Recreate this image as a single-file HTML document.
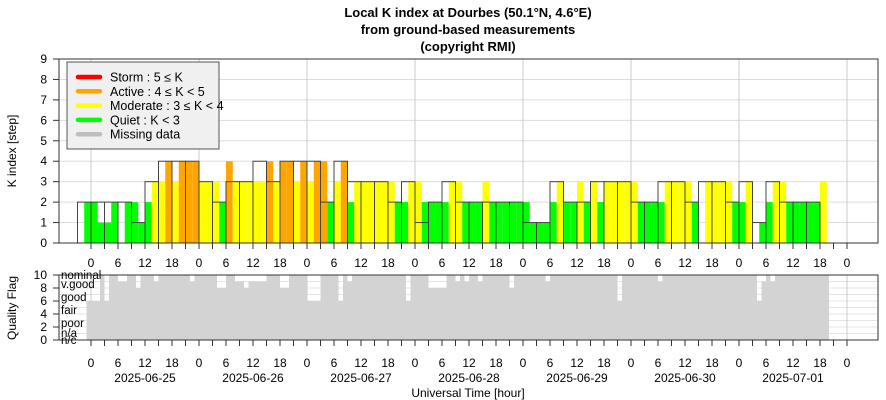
<!DOCTYPE html>
<html><head><meta charset="utf-8"><style>
body{margin:0;background:#fff}
svg{display:block;font-family:"Liberation Sans",sans-serif}
</style></head><body>
<svg id="c" width="886" height="400" viewBox="0 0 886 400">
<g font-weight="bold" font-size="13" text-anchor="middle" fill="#000">
<text x="468" y="17">Local K index at Dourbes (50.1°N, 4.6°E)</text>
<text x="468" y="34">from ground-based measurements</text>
<text x="468" y="51">(copyright RMI)</text>
</g>
<text transform="translate(16,151) rotate(-90)" font-size="12" text-anchor="middle">K index [step]</text>
<text transform="translate(16,308) rotate(-90)" font-size="12" text-anchor="middle">Quality Flag</text>
<text x="468" y="397" font-size="12" text-anchor="middle">Universal Time [hour]</text>
<g id="grid"></g><g id="bars"></g><g id="outl"></g><g id="qbars"></g><g id="axes"></g>
<g id="legend">
<rect x="67" y="62" width="152" height="87" fill="#f0f0f0" stroke="#555"/>
</g>
</svg>
<script>
const outlineK=[2,2,2,2,1,3,4,4,4,3,2,3,3,4,3,4,4,4,2,4,3,
3,3,2,3,1,2,3,2,2,2,2,2,1,1,3,2,2,3,3,
3,2,2,3,3,2,3,3,2,3,1,3,2,2,2];
const halfK=[null,2, 2,1, 1,2, null,2, 2,1, 2,3, 3,4, 3,4, 4,4, 3,3, 3,2, 4,3, 3,3, 3,3, 4,3, 4,4, 3,4, 3,4, 4,2, 3,4, 2,3,
3,3, 3,3, 3,2, 2,3, 3,2, 2,2, 2,3, 3,2, 2,2, 3,2, 2,2, 2,2, 2,1, 1,1, 2,3, 2,2, 3,2, 3,2, 3,3,
3,3, 3,2, 2,2, 2,3, 3,3, 3,2, null,3, 3,3, 3,2, 2,3, null,1, 2,3, 3,2, 2,2, 2,2, 3,null];
const quality=[6,
6,6,10,6,10,10,9,9,10,10,8,10,10,10,9,10,10,10,10,10,10,10,9,10,
10,10,10,10,8,8,10,10,9,9,8,9,9,9,9,10,10,10,8,8,10,10,10,10,
6,6,6,10,10,10,10,6,10,9,10,10,10,10,10,10,10,10,10,10,10,10,6,10,
10,10,10,8,8,8,8,10,10,9,10,9,10,10,9,10,10,10,10,10,10,8,10,10,
10,10,10,10,10,9,10,10,10,10,10,10,10,10,10,10,10,10,10,10,10,6,10,10,
10,10,10,10,10,10,9,10,10,10,10,10,10,10,10,10,10,10,10,10,10,10,10,10,
10,10,10,10,6,9,10,9,10,10,10,10,10,10,10,10,10,10,10,10];
const hourTicks=["0","6","12","18"];
const dates=["2025-06-25","2025-06-26","2025-06-27","2025-06-28","2025-06-29","2025-06-30","2025-07-01"];
const qLabels=["nominal","v.good","good","fair","poor","n/a","n/c"];
const qLabelVals=[10,8.6,6.6,4.6,2.6,1.1,0];
const legendNames=["Storm : 5 ≤ K","Active : 4 ≤ K < 5","Moderate : 3 ≤ K < 4","Quiet : K < 3","Missing data"];
const legendColors=["#ff0000","#ffa500","#ffff00","#00ff00","#bebebe"];

const NS="http://www.w3.org/2000/svg";
const L=59,R=878,T=59,B=243,QT=275,QB=340;
const x=h=>91+h*4.5;
const y=k=>B-k*(B-T)/9;
const qy=v=>QB-v*(QB-QT)/10;
function mk(p,tag,at){const e=document.createElementNS(NS,tag);for(const k in at)e.setAttribute(k,at[k]);document.getElementById(p).appendChild(e);return e;}
function col(k){return k>=5?"#ff0000":k>=4?"#ffa500":k>=3?"#ffff00":"#00ff00";}

// grid
for(let k=1;k<9;k++){const g=mk("grid","line",{x1:L,x2:R,y1:y(k),y2:y(k),stroke:"#ddd"});

}
for(let v=1;v<10;v++){const g=mk("grid","line",{x1:L,x2:R,y1:qy(v),y2:qy(v),stroke:"#e4e4e4"});

}
for(let d=0;d<=7;d++){[[T,B],[QT,QB]].forEach(r=>{const g=mk("grid","line",{x1:x(d*24),x2:x(d*24),y1:r[0],y2:r[1],stroke:"#ccc"});

});}

// colored half-block bars
halfK.forEach((k,i)=>{if(k==null)return;const h0=-3+i*1.5;
const r=mk("bars","rect",{x:x(h0),y:y(k),width:4.5*1.5,height:B-y(k),fill:col(k)});

});
// outline 3-hour blocks
outlineK.forEach((k,i)=>{const h0=-3+i*3;
const r=mk("outl","rect",{x:x(h0),y:y(k),width:13.5,height:B-y(k),fill:"none",stroke:"#444","stroke-width":1});

});
// quality bars
quality.forEach((v,i)=>{const h0=-1+i;
const r=mk("qbars","rect",{x:x(h0),y:qy(v),width:4.5,height:QB-qy(v),fill:"#d3d3d3"});

});
// axes frames
[[T,B],[QT,QB]].forEach(r=>{const f=mk("axes","rect",{x:L,y:r[0],width:R-L,height:r[1]-r[0],fill:"none",stroke:"#333"});

});
for(let k=0;k<=9;k++){mk("axes","line",{x1:L-6,x2:L,y1:y(k),y2:y(k),stroke:"#333"});
const t=mk("axes","text",{x:L-12,y:y(k)+4,"font-size":12,"text-anchor":"end"});t.textContent=k;

}
for(let v=0;v<=10;v+=2){mk("axes","line",{x1:L-6,x2:L,y1:qy(v),y2:qy(v),stroke:"#333"});
const t=mk("axes","text",{x:L-12,y:qy(v)+4,"font-size":12,"text-anchor":"end"});t.textContent=v;

}
qLabels.forEach((s,i)=>{const t=mk("axes","text",{x:61,y:qy(qLabelVals[i])+4,"font-size":11.5});t.textContent=s;

});
for(let h=0;h<=168;h+=3){[B,QB].forEach(b=>mk("axes","line",{x1:x(h),x2:x(h),y1:b,y2:b+6,stroke:"#333"}));
if(h%6==0){[267,367].forEach(yy=>{const t=mk("axes","text",{x:x(h),y:yy,"font-size":12,"text-anchor":"middle"});t.textContent=hourTicks[(h/6)%4];

});}}
dates.forEach((d,i)=>{const t=mk("axes","text",{x:x(i*24+12),y:382,"font-size":12,"text-anchor":"middle"});t.textContent=d;

});
// legend
legendNames.forEach((s,i)=>{const yy=77+i*14.3;
const l=mk("legend","line",{x1:78,x2:100,y1:yy,y2:yy,stroke:legendColors[i],"stroke-width":4.5,"stroke-linecap":"round"});


const t=mk("legend","text",{x:110,y:yy+4.5,"font-size":12.5});t.textContent=s;

});
</script>
</body></html>
